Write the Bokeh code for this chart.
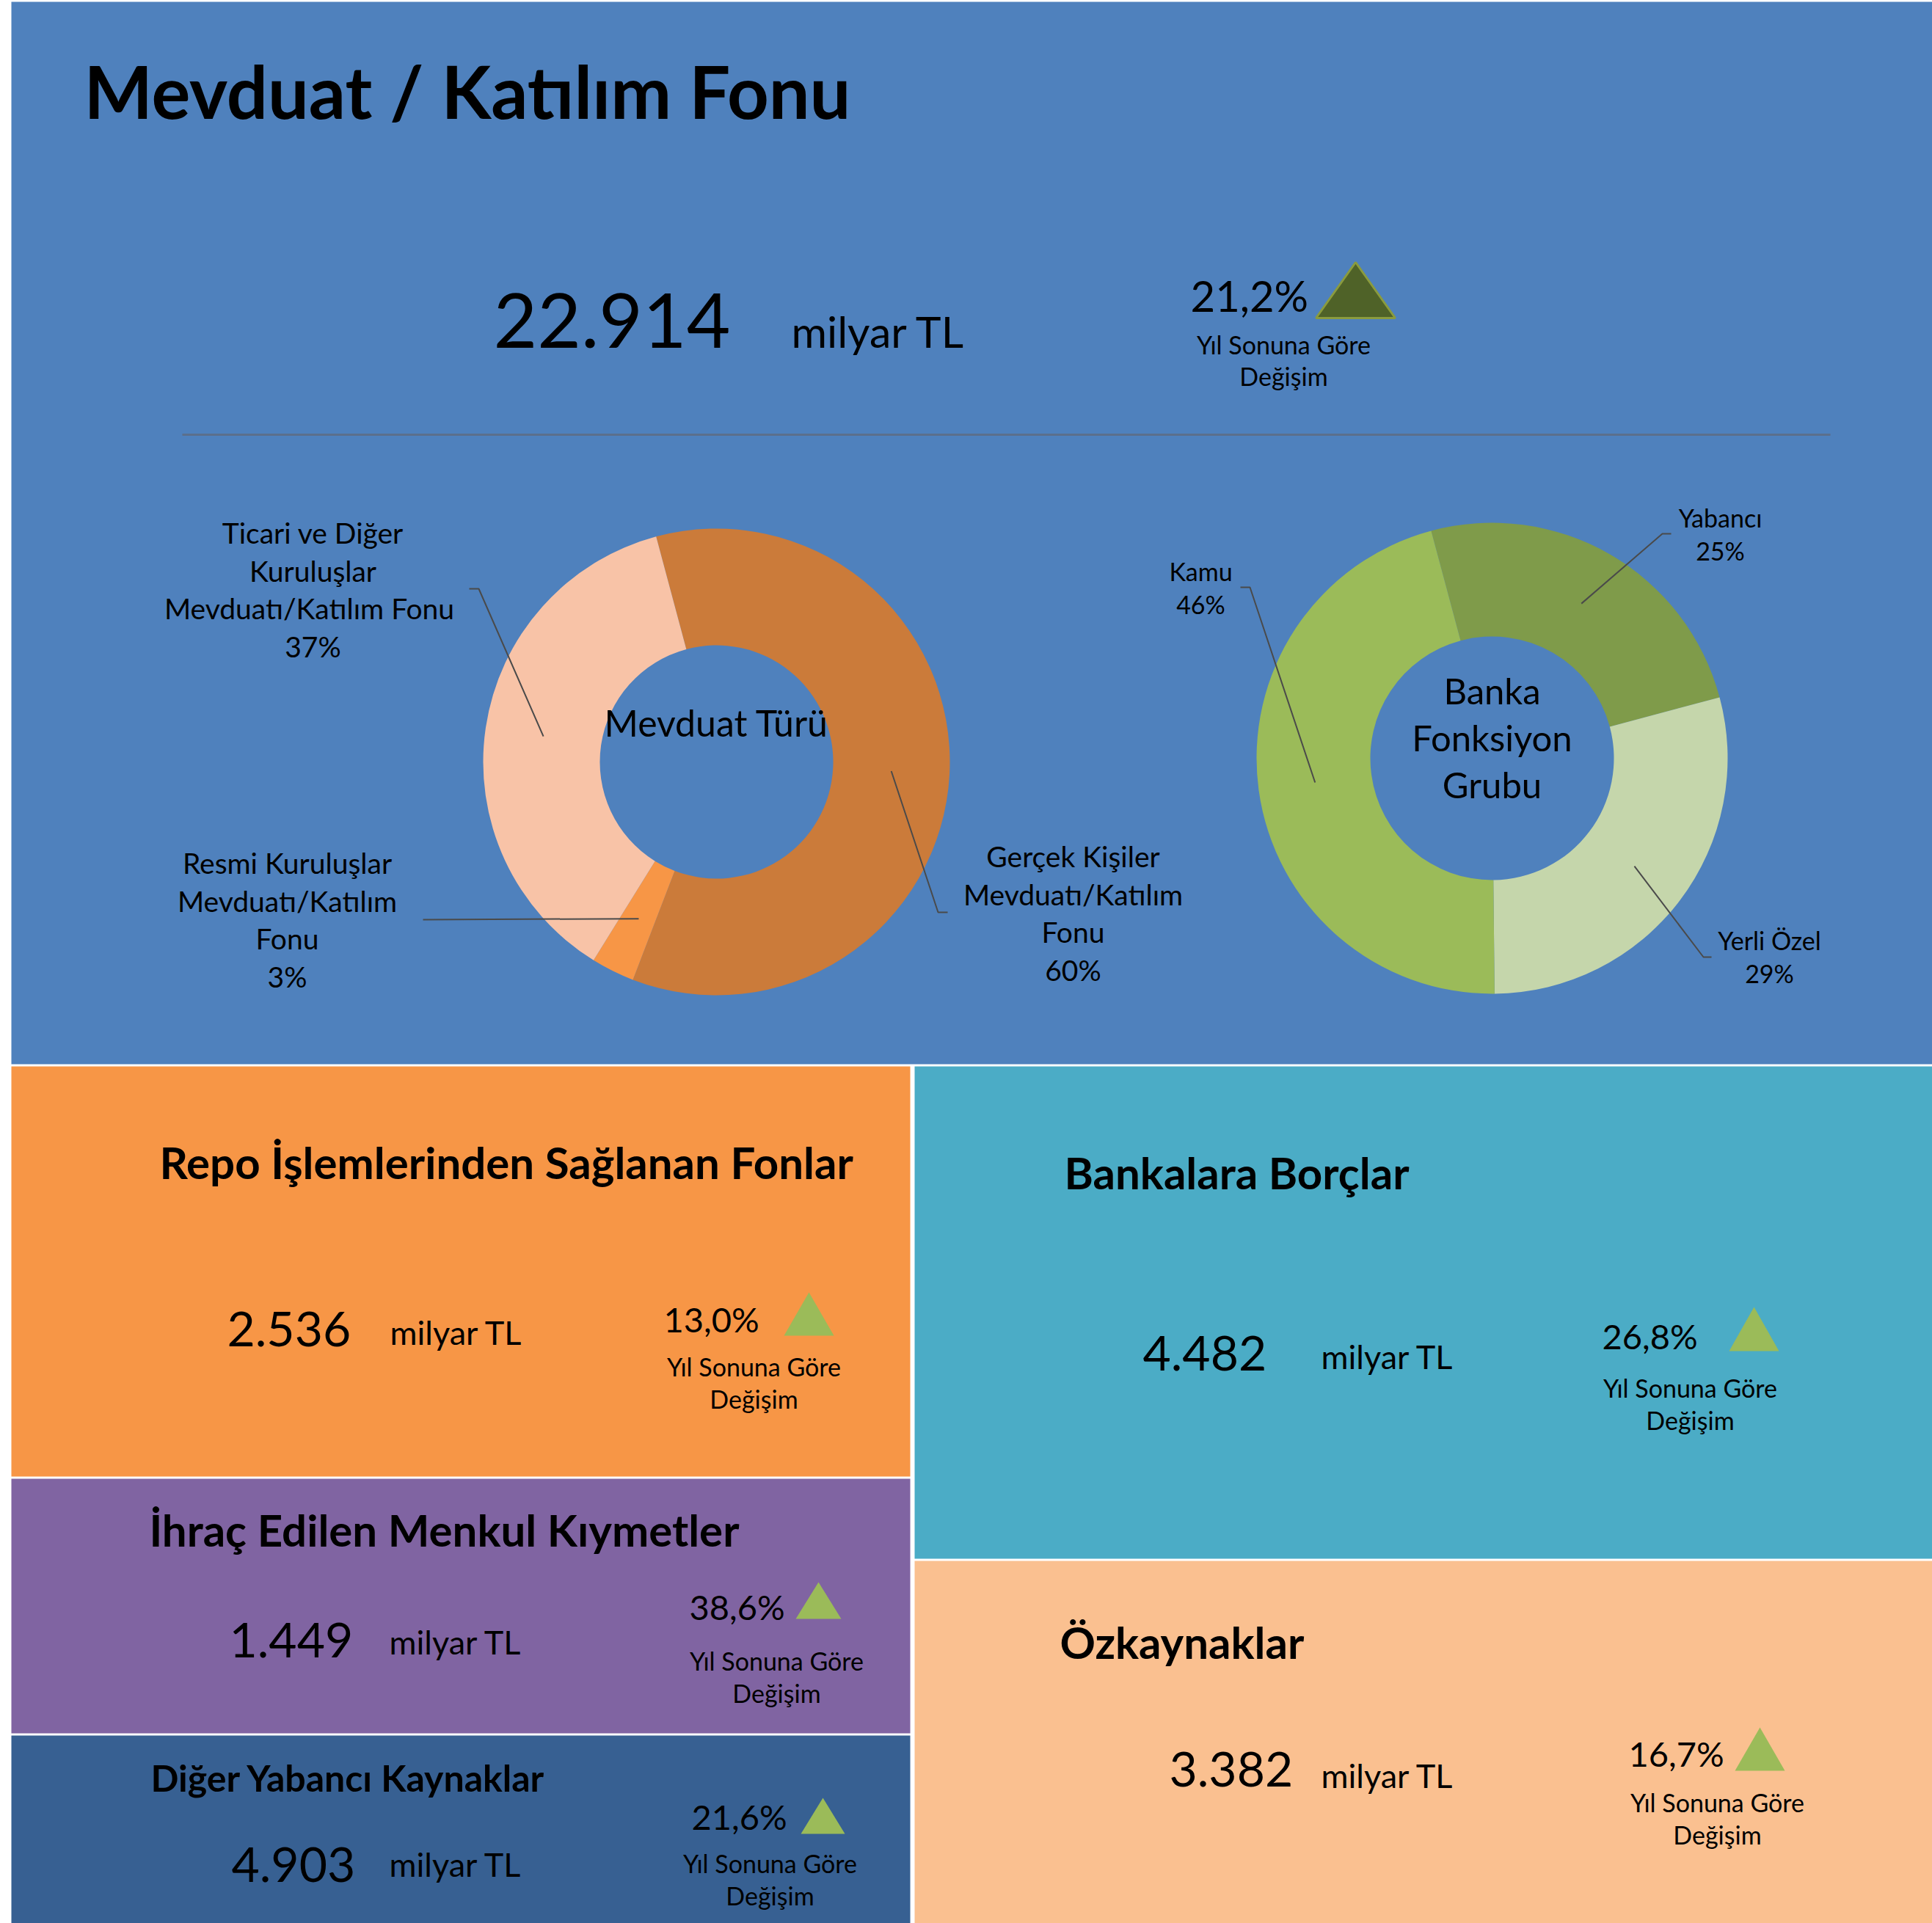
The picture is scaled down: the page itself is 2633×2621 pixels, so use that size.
import math
from bokeh.plotting import figure
from bokeh.models import Range1d
from bokeh.core.properties import value
from bokeh.embed import file_html
from bokeh.resources import INLINE

FONT = "Lato"

# ---------------- data ----------------
main_title = "Mevduat / Katılım Fonu"
total_value = "22.914"
total_unit = "milyar TL"
total_change = "21,2%"
change_caption = ["Yıl Sonuna Göre", "Değişim"]

deposit_types = ["Gerçek Kişiler Mevduatı/Katılım Fonu",
                 "Resmi Kuruluşlar Mevduatı/Katılım Fonu",
                 "Ticari ve Diğer Kuruluşlar Mevduatı/Katılım  Fonu"]
deposit_label_lines = [["Gerçek Kişiler", "Mevduatı/Katılım", "Fonu"],
                       ["Resmi Kuruluşlar", "Mevduatı/Katılım", "Fonu"],
                       ["Ticari ve Diğer", "Kuruluşlar", "Mevduatı/Katılım  Fonu"]]
deposit_shares = [60, 3, 37]
deposit_center = ["Mevduat Türü"]

bank_groups = ["Yabancı", "Yerli Özel", "Kamu"]
bank_shares = [25, 29, 46]
bank_center = ["Banka", "Fonksiyon", "Grubu"]

panel_titles = ["Repo İşlemlerinden Sağlanan Fonlar", "İhraç Edilen Menkul Kıymetler",
                "Diğer Yabancı Kaynaklar", "Bankalara Borçlar", "Özkaynaklar"]
panel_values = ["2.536", "1.449", "4.903", "4.482", "3.382"]
panel_changes = ["13,0%", "38,6%", "21,6%", "26,8%", "16,7%"]

# ---------------- styles / layout ----------------
deposit_colors = ["#CB7B3A", "#F79646", "#F8C3A7"]
bank_colors = ["#7F9B4A", "#C5D6AB", "#9BBB59"]
panel_colors = ["#F79646", "#8064A2", "#376092", "#4BACC6", "#FAC090"]

# panel boxes (left, top, right, bottom) in page pixels
panel_boxes = [(15, 1453, 1240, 2012), (15, 2015, 1240, 2362), (15, 2365, 1240, 2621),
               (1246, 1453, 2633, 2124), (1246, 2127, 2633, 2621)]
# title (x, baseline), value (x, baseline), unit (x, baseline), pct (x, baseline)
panel_title_pos = [(217, 1606), (203, 2107), (205, 2442), (1450, 1620), (1444, 2260)]
panel_title_size = [60, 60, 50, 60, 60]
panel_value_pos = [(309, 1837), (312, 2261), (315, 2567), (1557, 1870), (1593, 2437)]
panel_unit_pos = [(531, 1833), (530, 2255), (530, 2558), (1800, 1866), (1800, 2437)]
panel_pct_pos = [(904, 1815), (939, 2207), (942, 2493), (2183, 1838), (2219, 2407)]
# triangle apex x, apex y, base y, half width
panel_tri = [(1102, 1761, 1820, 34), (1115, 2156, 2206, 31), (1121, 2450, 2499, 30),
             (2390, 1781, 1841, 34), (2398, 2354, 2413, 34)]
# caption centre x, first baseline
panel_caption = [(1027, 1875), (1058, 2276), (1049, 2552), (2303, 1904), (2340, 2469)]

W, H = 2633, 2621
p = figure(width=W, height=H, x_range=Range1d(0, W), y_range=Range1d(-H, 0),
           output_backend="svg", toolbar_location=None, min_border=0,
           x_axis_location=None, y_axis_location=None)
p.grid.visible = False
p.outline_line_color = None
p.background_fill_color = "white"
p.border_fill_color = "white"

BASE_SHIFT = 0.39  # compensates the renderer's baseline offset


def txt(x, y, s, size, align="left", bold=False, color="black"):
    yy = int(round(y - BASE_SHIFT * size))
    p.text(x=[x], y=[-yy], text=[s], text_font=value(FONT),
           text_font_size=f"{size}px", text_align=align, text_baseline="alphabetic",
           text_color=color, text_font_style="bold" if bold else "normal")


def box(l, t, r, b, color):
    p.quad(left=[l], right=[r], top=[-t], bottom=[-b], fill_color=color, line_color=None)


def triangle(ax, ay, by, hw, fill, line=None, lw=0):
    p.patch(x=[ax - hw, ax, ax + hw], y=[-by, -ay, -by], fill_color=fill,
            line_color=line, line_width=lw)


def donut(cx, cy, r_in, r_out, shares, colors, first=345.0):
    mids = []
    cum = first
    for v, c in zip(shares, colors):
        t1, t2 = cum, cum + v * 3.6
        p.annular_wedge(x=[cx], y=[-cy], inner_radius=r_in, outer_radius=r_out,
                        start_angle=math.radians(90 - t2), end_angle=math.radians(90 - t1),
                        fill_color=c, line_color=None)
        mid = math.radians((t1 + t2) / 2)
        rm = (r_in + r_out) / 2
        mids.append((cx + rm * math.sin(mid), cy - rm * math.cos(mid)))
        cum = t2
    return mids


def leader(start, pts):
    xs = [start[0]] + [q[0] for q in pts]
    ys = [-start[1]] + [-q[1] for q in pts]
    p.line(x=xs, y=ys, line_color="#4A4A4A", line_width=2)


# ---------------- top panel ----------------
box(15, 2, 2633, 1450, "#4F81BD")
txt(114, 162, main_title, 99, bold=True)
txt(672, 476, total_value, 103)
txt(1078, 474, total_unit, 59)
txt(1622, 425, total_change, 58)
triangle(1847, 357, 433, 54, "#4F6228", "#8A9B3E", 3)
txt(1749, 482, change_caption[0], 34, align="center")
txt(1749, 525, change_caption[1], 34, align="center")
p.line(x=[248, 2494], y=[-592, -592], line_color="#5B6F8C", line_width=3)

# donut 1 : deposit type
mids1 = donut(976, 1038, 159, 318, deposit_shares, deposit_colors)
txt(976, 1003, deposit_center[0], 50, align="center")
dep_label_x = [1462, 391, 426]
dep_label_y = [1181, 1190, 740]
dep_leaders = [[(1278, 1243), (1291, 1243)], [(576, 1253)], [(652, 802), (639, 802)]]
for i, lines in enumerate(deposit_label_lines):
    allines = lines + [f"{deposit_shares[i]}%"]
    for k, s in enumerate(allines):
        txt(dep_label_x[i], dep_label_y[i] + k * 51.8, s, 39, align="center")
    leader(mids1[i], dep_leaders[i])

# donut 2 : bank group
mids2 = donut(2033, 1033, 166, 321, bank_shares, bank_colors)
for k, s in enumerate(bank_center):
    txt(2033, 959 + k * 64, s, 49, align="center")
bank_label_x = [2344, 2411, 1636]
bank_label_y = [718, 1294, 791]
bank_leaders = [[(2265, 727), (2277, 727)], [(2321, 1304), (2332, 1304)], [(1703, 800), (1690, 800)]]
for i, name in enumerate(bank_groups):
    txt(bank_label_x[i], bank_label_y[i], name, 34, align="center")
    txt(bank_label_x[i], bank_label_y[i] + 45, f"{bank_shares[i]}%", 34, align="center")
    leader(mids2[i], bank_leaders[i])

# ---------------- lower panels ----------------
for i in range(len(panel_titles)):
    box(*panel_boxes[i], panel_colors[i])
    txt(*panel_title_pos[i], panel_titles[i], panel_title_size[i], bold=True)
    txt(*panel_value_pos[i], panel_values[i], 66)
    txt(*panel_unit_pos[i], total_unit, 45)
    txt(*panel_pct_pos[i], panel_changes[i], 47)
    triangle(*panel_tri[i], "#9BBB59")
    cx, cy = panel_caption[i]
    txt(cx, cy, change_caption[0], 34, align="center")
    txt(cx, cy + 44, change_caption[1], 34, align="center")

open("out.html", "w").write(file_html(p, INLINE))
